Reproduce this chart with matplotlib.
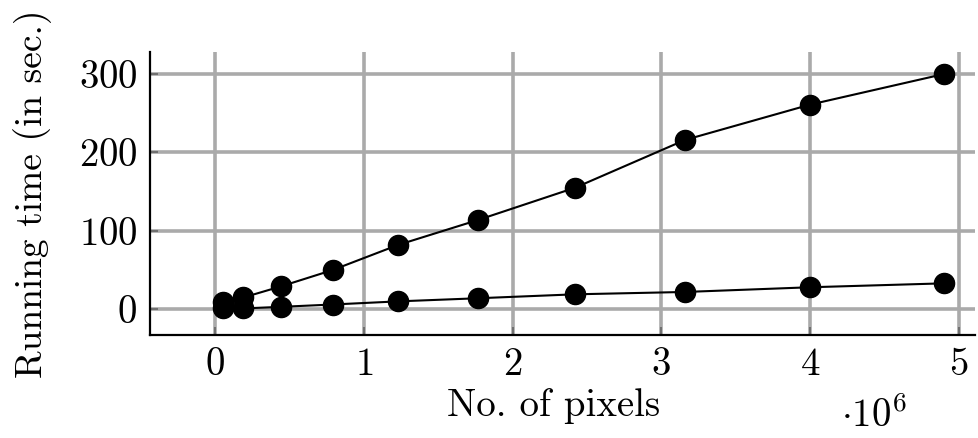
import matplotlib.pyplot as plt

plt.rcParams['font.family'] = 'cmr10'
plt.rcParams['mathtext.fontset'] = 'cm'
plt.rcParams['axes.formatter.use_mathtext'] = True

# pixels in millions
pixels = [0.05, 0.19, 0.44, 0.79, 1.23, 1.77, 2.42, 3.16, 4.0, 4.9]
time_slow = [9, 15, 29, 50, 82, 114, 155, 216, 261, 300]
time_fast = [1, 1, 3, 6, 10, 14, 19, 22, 28, 33]

xticks = [0, 1, 2, 3, 4, 5]
yticks = [0, 100, 200, 300]

fig = plt.figure(figsize=(9.79, 4.38), dpi=100)
ax = fig.add_axes([0.153, 0.235, 0.843, 0.646])

ax.plot(pixels, time_slow, 'k-o', lw=1.5, ms=14.5)
ax.plot(pixels, time_fast, 'k-o', lw=1.5, ms=14.5)

ax.set_xlim(-0.44, 5.11)
ax.set_ylim(-33, 328)
ax.set_xticks(xticks)
ax.set_yticks(yticks)
ax.grid(True, color='#aaaaaa', lw=2.6)
ax.set_axisbelow(True)

for s in ['top', 'right']:
  ax.spines[s].set_visible(False)
ax.spines['left'].set_linewidth(1.6)
ax.spines['bottom'].set_linewidth(1.6)
ax.tick_params(direction='in', length=6, width=1.5, color='#707070', labelsize=28, pad=9)

ax.set_xlabel('No. of pixels', fontsize=28)
ax.xaxis.set_label_coords(0.489, -0.188)
ax.set_ylabel('Running time (in sec.)', fontsize=27)
ax.yaxis.set_label_coords(-0.118, 0.5)
fig.text(0.893, 0.026, r'$\cdot10^6$', fontsize=28, ha='center', va='baseline')

fig.savefig('out.png', dpi=100)
